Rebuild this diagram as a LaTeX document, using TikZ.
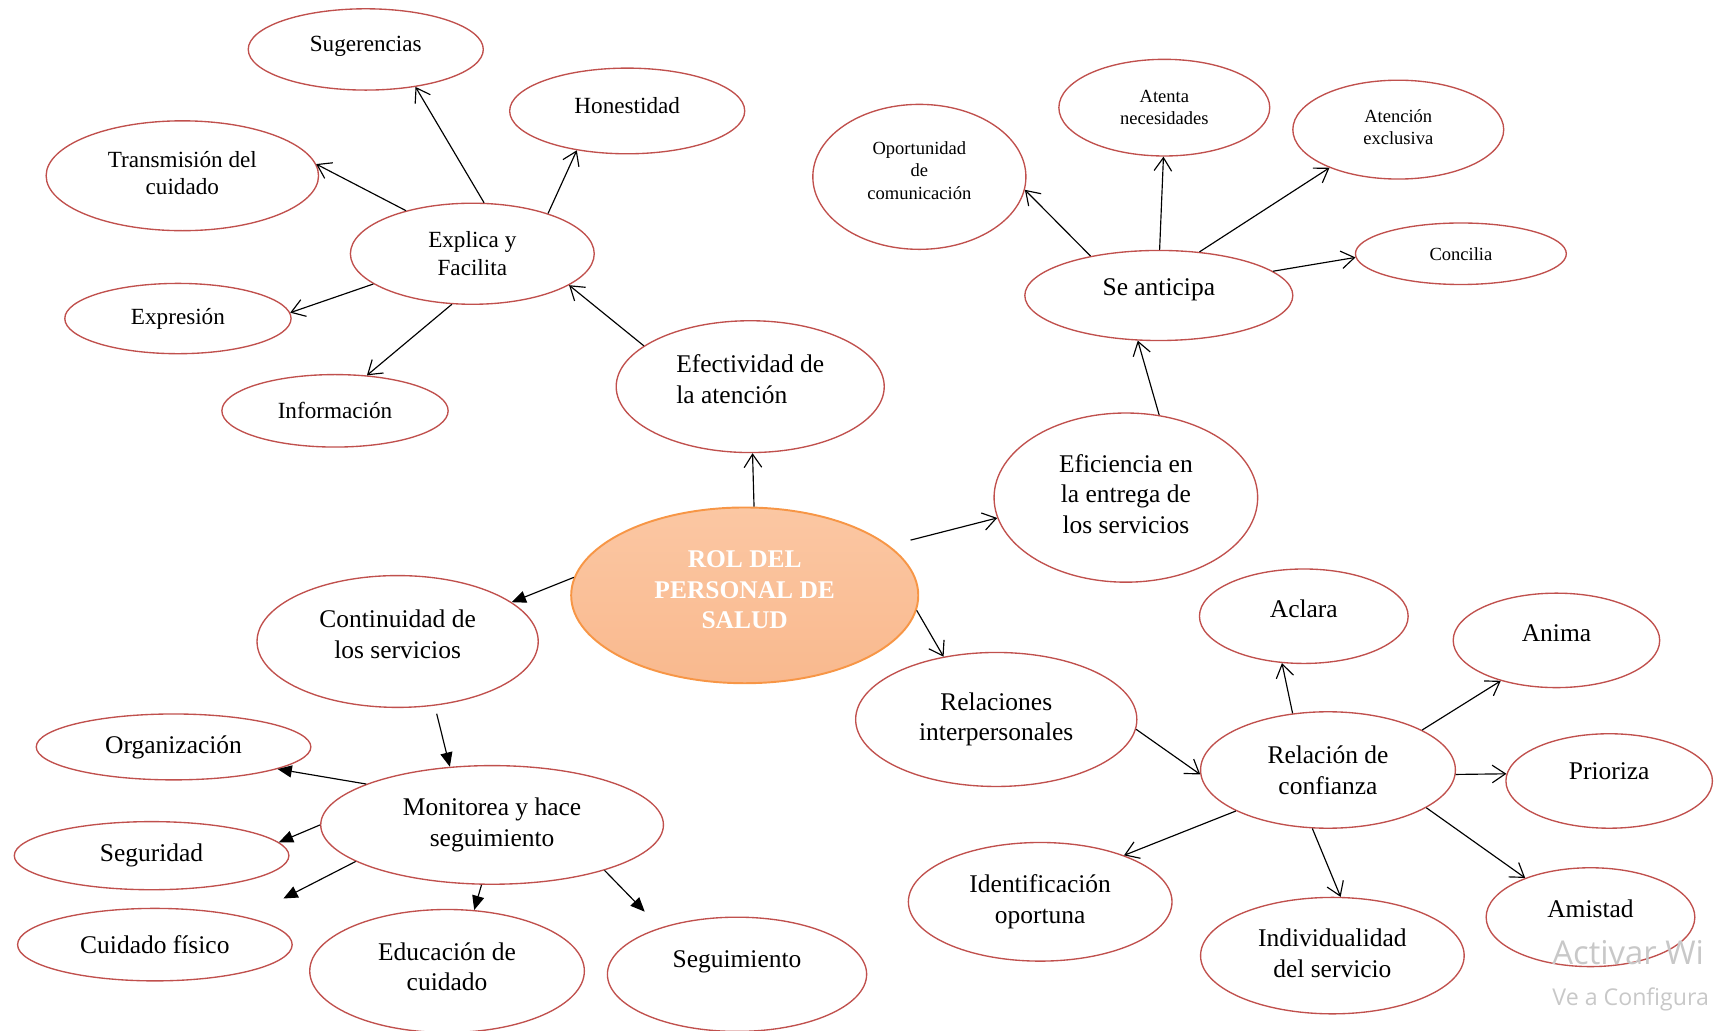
\documentclass[tikz,border=0pt]{standalone}
\usepackage{fontspec}
\setmainfont{Liberation Serif}
\newfontfamily\wmfont{Open Sans}
\usetikzlibrary{shapes.geometric}
\usetikzlibrary{arrows.meta}
\definecolor{ellred}{HTML}{C0504D}
\definecolor{rolhi}{HTML}{FBC7A3}
\definecolor{rollo}{HTML}{F9B98E}
\definecolor{rolbd}{HTML}{F79646}
\definecolor{wmgray}{HTML}{C8C8C8}

\begin{document}
\begin{tikzpicture}
    [x=0.02cm, y=-0.02cm,
     elli/.style 2 args={draw=ellred, ellipse, line width=0.7pt, inner sep=0pt, align=center,
       minimum width=#1*0.02cm, minimum height=#2*0.02cm},
     big/.style={font=\fontsize{13.2}{15.9}\selectfont},
     mid/.style={font=\fontsize{12}{14.2}\selectfont},
     sml/.style={font=\fontsize{9.6}{11.6}\selectfont},
     up/.style={text depth=#1},
     opn/.style={-{Straight Barb[length=2.4mm,width=3.2mm]}, line width=0.6pt},
     fil/.style={-{Triangle[length=2.6mm,width=2.2mm]}, line width=0.6pt},
     wm/.style={text=wmgray, anchor=base west, inner sep=0pt}]
    \useasboundingbox (0,0) rectangle (1565,938);

    % centre
    \node (rol) [ellipse, draw=rolbd, line width=1pt, top color=rolhi, bottom color=rollo,
      minimum width=316*0.02cm, minimum height=160*0.02cm, align=center, text=white, up=5.7pt,
      font=\fontsize{13.2}{15.9}\selectfont\bfseries] at (678,542) {ROL DEL\\PERSONAL DE\\SALUD};

    % upper left
    \node (efe) [elli={244}{120}, big, align=left, up=8pt] at (683,352) {Efectividad de\\la atención};
    \node (exp) [elli={222}{92}, mid] at (430,231) {Explica y\\Facilita};
    \node (sug) [elli={214}{74}, mid, up=6pt] at (333,45) {Sugerencias};
    \node (hon) [elli={214}{78}, mid, up=5.7pt] at (571,101) {Honestidad};
    \node (tra) [elli={248}{100}, mid, up=2.8pt] at (166,160) {Transmisión del\\cuidado};
    \node (epr) [elli={206}{64}, mid] at (162,290) {Expresión};
    \node (inf) [elli={206}{66}, mid] at (305,374) {Información};

    % upper right
    \node (efi) [elli={240}{154}, big, up=4pt] at (1025,453) {Eficiencia en\\la entrega de\\los servicios};
    \node (ant) [elli={244}{82}, big, up=8.6pt] at (1055,269) {Se anticipa};
    \node (opo) [elli={194}{132}, sml, up=6.8pt] at (837,161) {Oportunidad\\de\\comunicación};
    \node (ate) [elli={192}{88}, sml] at (1060,98) {Atenta\\necesidades};
    \node (exc) [elli={192}{90}, sml, up=2.8pt] at (1273,118) {Atención\\exclusiva};
    \node (con) [elli={192}{56}, sml] at (1330,231) {Concilia};

    % lower left
    \node (cnt) [elli={256}{120}, big, up=7.4pt] at (362,584) {Continuidad de\\los servicios};
    \node (mon) [elli={312}{108}, big] at (448,751) {Monitorea y hace\\seguimiento};
    \node (org) [elli={250}{60}, big] at (158,680) {Organización};
    \node (seg) [elli={250}{62}, big] at (138,779) {Seguridad};
    \node (cui) [elli={250}{66}, big] at (141,860) {Cuidado físico};
    \node (edu) [elli={250}{112}, big, up=4.6pt] at (407,884) {Educación de\\cuidado};
    \node (sgm) [elli={236}{104}, big, up=15.4pt] at (671,887) {Seguimiento};

    % lower right
    \node (rel) [elli={256}{122}, big] at (907,655) {Relaciones\\interpersonales};
    \node (cnf) [elli={232}{106}, big] at (1209,701) {Relación de\\confianza};
    \node (acl) [elli={190}{86}, big, up=8pt] at (1187,561) {Aclara};
    \node (ani) [elli={188}{86}, big, up=8pt] at (1417,583) {Anima};
    \node (pri) [elli={188}{86}, big, up=10.2pt] at (1465,711) {Prioriza};
    \node (idn) [elli={240}{108}, big] at (947,821) {Identificación\\oportuna};
    \node (ind) [elli={240}{106}, big, up=2.8pt] at (1213,870) {Individualidad\\del servicio};
    \node (ami) [elli={190}{90}, big, up=9.1pt] at (1448,835) {Amistad};

    \coordinate (cuiend) at (258,818);
    \coordinate (sgmend) at (587,830);

    \draw[opn] (rol.84) -- (efe.-88);
    \draw[opn] (efe.159) -- (exp.-18);
    \draw[opn] (exp.77) -- (sug.-37);
    \draw[opn] (exp.28) -- (hon.-142);
    \draw[opn] (exp.147) -- (tra.5);
    \draw[opn] (exp.-163) -- (epr.3);
    \draw[opn] (exp.-112) -- (inf.48);

    \draw[opn, shorten <=0.4cm] (rol.19) -- (efi.-171);
    \draw[opn] (efi.68) -- (ant.-115);
    \draw[opn] (ant.150) -- (opo.-7);
    \draw[opn] (ant.89) -- (ate.-91);
    \draw[opn] (ant.47) -- (exc.-151);
    \draw[opn] (ant.12) -- (con.182);

    \draw[fil] (rol.174) -- (cnt.19);
    \draw[fil, shorten <=0.15cm] (cnt.-60) -- (mon.126);
    \draw[fil] (mon.162) -- (org.-12);
    \draw[fil] (mon.180) -- (seg.6);
    \draw[fil] (mon.-165) -- (cuiend);
    \draw[fil] (mon.-100) -- (edu.66);
    \draw[fil] (mon.-22) -- (sgmend);

    \draw[opn] (rol.-5) -- (rel.130);
    \draw[opn] (rel.-4) -- (cnf.182);
    \draw[opn] (cnf.122) -- (acl.-115);
    \draw[opn] (cnf.23) -- (ani.216);
    \draw[opn] (cnf.-2) -- (pri.176);
    \draw[opn] (cnf.-21) -- (ami.149);
    \draw[opn] (cnf.-105) -- (ind.82);
    \draw[opn] (cnf.-156) -- (idn.29);

    % watermark
    \node (wma) [wm, font=\wmfont\fontsize{17}{20}\selectfont] at (1413,878) {Activar Wi};
    \node (wmb) [wm, font=\wmfont\fontsize{12}{14}\selectfont] at (1413,915) {Ve a Configura};
\end{tikzpicture}
\end{document}
